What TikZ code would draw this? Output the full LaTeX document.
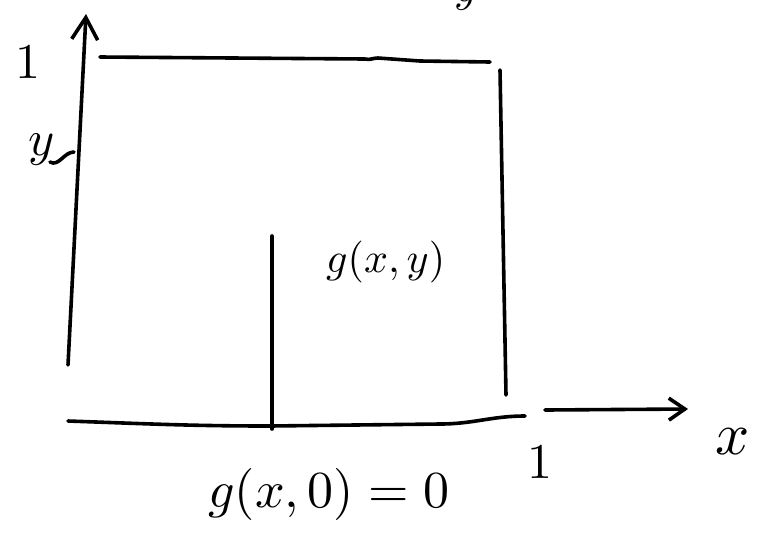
\documentclass[tikz,border=0pt]{standalone}
\usepackage{graphicx}
\usetikzlibrary{arrows.meta}
\newcommand{\sketchsz}[2]{\scalebox{#1}{#2}}
\begin{document}
\begin{tikzpicture}[x=1pt,y=-1pt,
  stroke/.style={line width=3.6pt,line cap=round,black},
  axis/.style={stroke,-{Straight Barb[length=22pt,width=26pt,line width=3.6pt]}},
  lbl/.style={inner sep=0pt}]
\useasboundingbox (0,0) rectangle (760,550);
\begin{scope}
\clip (0,0) rectangle (760,550);
\node[lbl] (topglyph) at (466,-4) {\sketchsz{4.5}{$y$}};
\end{scope}
% axes
\coordinate (yb) at (68,365);
\coordinate (yt) at (86,14);
\draw[axis] (yb) -- (yt);
\coordinate (xa) at (545,410);
\coordinate (xb) at (688,409);
\draw[stroke,-{Straight Barb[length=16pt,width=22pt,line width=3.6pt]}] (xa) -- (xb);
% box
\coordinate (tl) at (100,57);
\coordinate (tr) at (490,62);
\draw[stroke] (tl) -- (365,59) to[out=-15,in=180] (378,58) -- (420,61) -- (tr);
\coordinate (rt) at (500,70);
\coordinate (rb) at (506,395);
\draw[stroke] (rt) -- (rb);
\coordinate (bl) at (68,421);
\coordinate (br) at (525,416);
\draw[stroke] (bl) to[out=-2,in=180] (270,426) -- (440,424) to[out=0,in=180] (br);
% middle line
\coordinate (mt) at (272,236);
\coordinate (mb) at (272,429);
\draw[stroke] (mt) -- (mb);
% y tick
\node[lbl] (ylab) at (42,150) {\sketchsz{5}{$y$}};
\coordinate (ytick) at (74,152);
\coordinate (ytickstart) at (50,162);
\draw[stroke] (ytickstart) to[out=-30,in=180] (ytick);
% labels
\node[lbl] (one1) at (28,62) {\sketchsz{5}{$1$}};
\node[lbl] (one2) at (540,462) {\sketchsz{5}{$1$}};
\node[lbl] (xlab) at (733,442) {\sketchsz{6}{$x$}};
\node[lbl,anchor=west] (gxy) at (326,262) {\sketchsz{4.2}{$g(x,y)$}};
\node[lbl,anchor=west] (g0) at (208,494) {\sketchsz{5.2}{$g(x,0)=0$}};
\end{tikzpicture}
\end{document}
